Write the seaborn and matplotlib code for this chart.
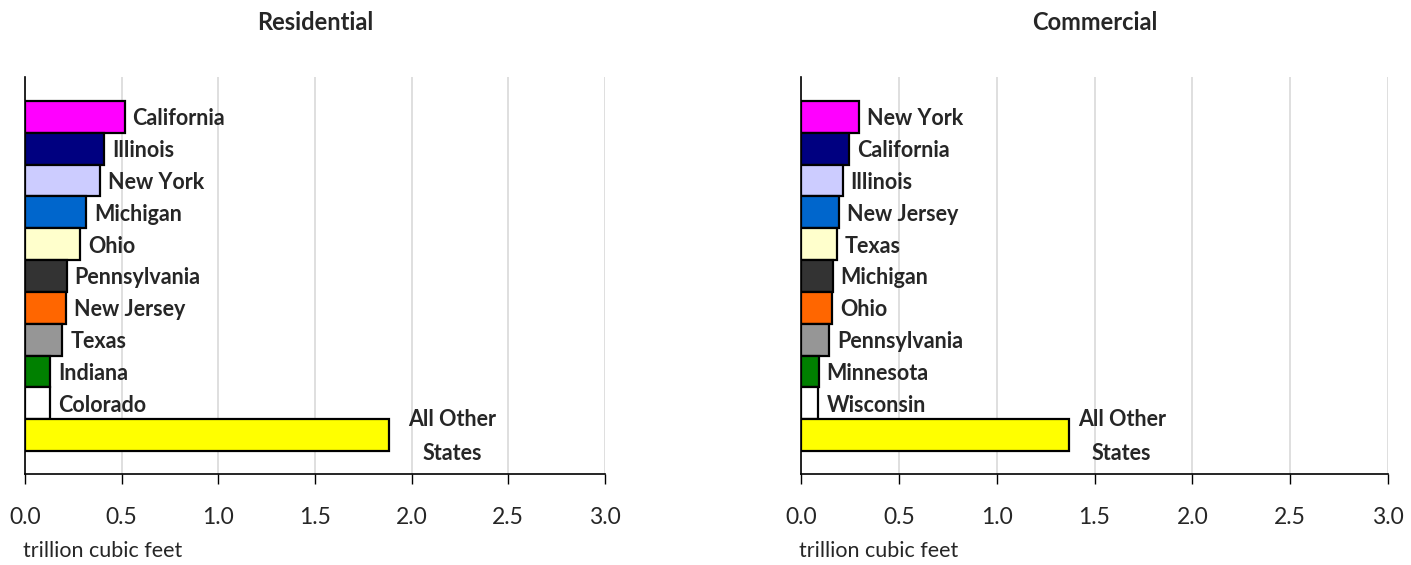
import pandas as pd
import seaborn as sns
import matplotlib.pyplot as plt

# Natural gas consumption by state, trillion cubic feet
res_states = ['California', 'Illinois', 'New York', 'Michigan', 'Ohio', 'Pennsylvania',
              'New Jersey', 'Texas', 'Indiana', 'Colorado', 'All Other\nStates']
res_values = [0.515, 0.41, 0.39, 0.318, 0.287, 0.215, 0.21, 0.194, 0.132, 0.13, 1.885]

com_states = ['New York', 'California', 'Illinois', 'New Jersey', 'Texas', 'Michigan',
              'Ohio', 'Pennsylvania', 'Minnesota', 'Wisconsin', 'All Other\nStates']
com_values = [0.295, 0.244, 0.212, 0.193, 0.183, 0.161, 0.159, 0.143, 0.09, 0.089, 1.368]

bar_colors = ['#FF00FF', '#000080', '#CCCCFF', '#0066CC', '#FFFFCC', '#333333',
              '#FF6600', '#969696', '#008000', '#FFFFFF', '#FFFF00']

xticks = [0.0, 0.5, 1.0, 1.5, 2.0, 2.5, 3.0]

sns.set_style('white')
plt.rcParams['font.family'] = ['Lato', 'DejaVu Sans']

fig = plt.figure(figsize=(14.11, 5.65), dpi=100)
ax_res = fig.add_axes([0.0177, 0.161, 0.411, 0.703])
ax_com = fig.add_axes([0.5677, 0.161, 0.416, 0.703])


def draw_panel(ax, states, values, title, other_offset):
    df = pd.DataFrame({'state': states, 'value': values})
    sns.barplot(data=df, x='value', y='state', hue='state', palette=bar_colors,
                saturation=1, orient='h', width=1.0, legend=False, edgecolor='black',
                linewidth=1.6, ax=ax, zorder=3)
    ax.set_xlim(0, 3.0)
    ax.set_ylim(11.22, -1.255)
    ax.set_xticks(xticks)
    ax.set_xticklabels(['%.1f' % t for t in xticks], fontsize=16.5)
    ax.set_yticks([])
    ax.set_ylabel('')
    ax.set_xlabel('trillion cubic feet', loc='left', fontsize=15.5, labelpad=9)
    ax.xaxis.label.set_x(-0.004)
    ax.grid(axis='x', color='#d9d9d9', linewidth=1.2, zorder=0)
    ax.tick_params(axis='x', bottom=True, direction='out', length=7, width=1,
                   color='black', pad=17)
    for side in ['top', 'right']:
        ax.spines[side].set_visible(False)
    for side in ['left', 'bottom']:
        ax.spines[side].set_color('black')
        ax.spines[side].set_linewidth(1.2)

    # state labels to the right of each bar
    for i, (name, val) in enumerate(zip(states, values)):
        if '\n' in name:
            ax.annotate(name, (val, i), xytext=(other_offset, -1), textcoords='offset pixels',
                        ha='left', va='center', multialignment='center', linespacing=1.75,
                        fontsize=15.5, fontweight='bold')
        else:
            ax.annotate(name, (val, i), xytext=(8, -2), textcoords='offset pixels',
                        ha='left', va='center', fontsize=15.5, fontweight='bold')

    ax.text(0.5, 1.138, title, transform=ax.transAxes, ha='center', va='center',
            fontsize=17, fontweight='bold')


draw_panel(ax_res, res_states, res_values, 'Residential', 19)
draw_panel(ax_com, com_states, com_values, 'Commercial', 9)

plt.savefig('out.png', dpi=100)
plt.close()
